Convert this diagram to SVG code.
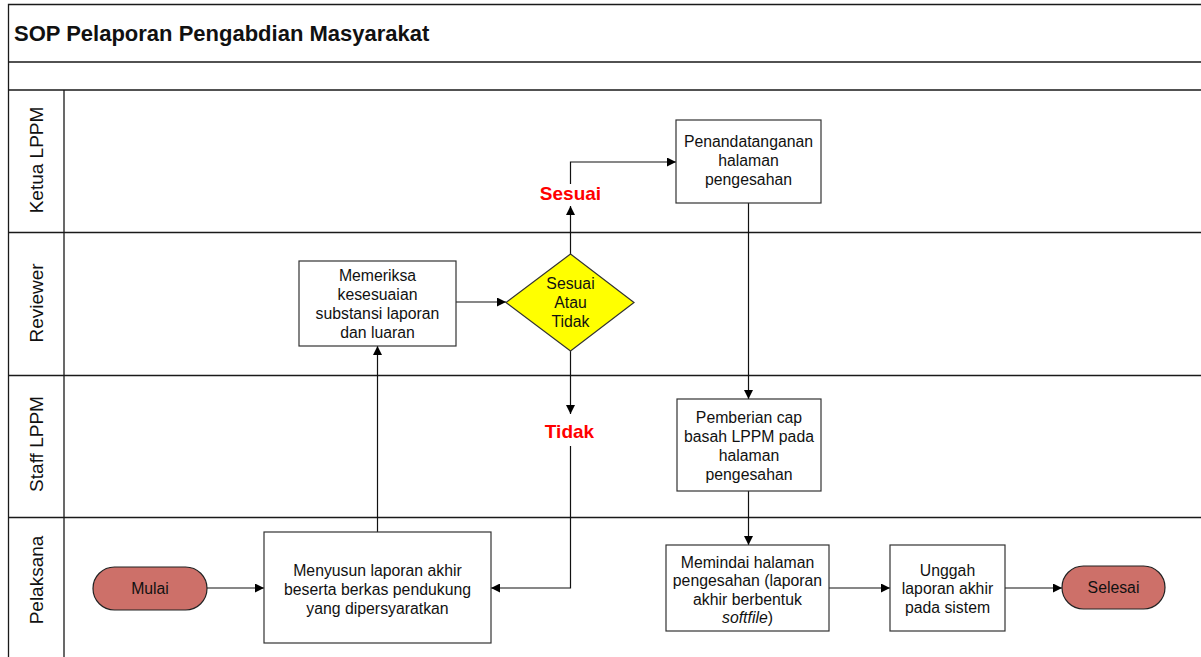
<svg xmlns="http://www.w3.org/2000/svg" width="1201" height="657" viewBox="0 0 1201 657">
<style>
.frame{fill:none;stroke:#1a1a1a;stroke-width:1.3}
.box{fill:#fff;stroke:#333;stroke-width:1.2}
.term{fill:#CD7069;stroke:#222;stroke-width:1.2}
.dia{fill:#FFFF00;stroke:#333;stroke-width:1.2}
.t{font-family:"Liberation Sans",Arial,sans-serif;font-size:15.8px;fill:#111;text-anchor:middle}
.lane{font-family:"Liberation Sans",Arial,sans-serif;font-size:19px;fill:#111;text-anchor:middle}
.title{font-family:"Liberation Sans",Arial,sans-serif;font-size:22px;font-weight:bold;fill:#111}
.lbl{font-family:"Liberation Sans",Arial,sans-serif;font-size:19px;font-weight:bold;fill:#FF0000;text-anchor:middle}
.c{fill:none;stroke:#111;stroke-width:1.2}
</style>
<defs>
<marker id="ah" viewBox="0 0 10 10" refX="10" refY="5" markerWidth="9" markerHeight="9" markerUnits="userSpaceOnUse" orient="auto">
<path d="M0,0 L10,5 L0,10 z" fill="#000"/>
</marker>
</defs>
<rect x="0" y="0" width="1201" height="657" fill="#fff"/>
<g id="frame">
<path class="frame" d="M1201,4.5 H8.5 V657"/>
<path class="frame" d="M8.5,62 H1201 M8.5,90 H1201 M8.5,232.5 H1201 M8.5,375.5 H1201 M8.5,517.5 H1201 M64,90 V657"/>
<text class="title" x="14" y="40.5">SOP Pelaporan Pengabdian Masyarakat</text>
</g>
<g id="lanes">
<text class="lane" transform="translate(42.5,160) rotate(-90)">Ketua LPPM</text>
<text class="lane" transform="translate(42.5,303) rotate(-90)">Reviewer</text>
<text class="lane" transform="translate(42.5,444) rotate(-90)">Staff LPPM</text>
<text class="lane" transform="translate(42.5,580) rotate(-90)">Pelaksana</text>
</g>
<g id="connectors">
<path class="c" d="M207,588 H264" marker-end="url(#ah)"/>
<path class="c" d="M377.5,532 V346" marker-end="url(#ah)"/>
<path class="c" d="M456,302 H506" marker-end="url(#ah)"/>
<path class="c" d="M570.5,254 V206" marker-end="url(#ah)"/>
<path class="c" d="M570.5,184 V162 H676" marker-end="url(#ah)"/>
<path class="c" d="M570.5,351 V414" marker-end="url(#ah)"/>
<path class="c" d="M570.5,446 V588 H491" marker-end="url(#ah)"/>
<path class="c" d="M748.5,203 V399" marker-end="url(#ah)"/>
<path class="c" d="M748.5,491 V545" marker-end="url(#ah)"/>
<path class="c" d="M829,588 H890" marker-end="url(#ah)"/>
<path class="c" d="M1005,588 H1062" marker-end="url(#ah)"/>
<text class="lbl" x="570.5" y="200">Sesuai</text>
<text class="lbl" x="569.5" y="438">Tidak</text>
</g>
<g id="mulai">
<rect class="term" x="93" y="567" width="114" height="43" rx="21.5"/>
<text class="t" x="150" y="593.5">Mulai</text>
</g>
<g id="menyusun">
<rect class="box" x="264" y="532" width="227" height="111"/>
<text class="t" x="377.5" y="575.5">Menyusun laporan akhir</text>
<text class="t" x="377.5" y="594.5">beserta berkas pendukung</text>
<text class="t" x="377.5" y="613.5">yang dipersyaratkan</text>
</g>
<g id="memeriksa">
<rect class="box" x="299" y="261" width="157" height="85"/>
<text class="t" x="377.5" y="280.5">Memeriksa</text>
<text class="t" x="377.5" y="299.5">kesesuaian</text>
<text class="t" x="377.5" y="318.5">substansi laporan</text>
<text class="t" x="377.5" y="337.5">dan luaran</text>
</g>
<g id="keputusan">
<polygon class="dia" points="570.5,254 634,302.5 570.5,351 506,302.5"/>
<text class="t" x="570.5" y="289">Sesuai</text>
<text class="t" x="570.5" y="308">Atau</text>
<text class="t" x="570.5" y="327">Tidak</text>
</g>
<g id="penandatanganan">
<rect class="box" x="676" y="120" width="145" height="83"/>
<text class="t" x="748.5" y="147">Penandatanganan</text>
<text class="t" x="748.5" y="166">halaman</text>
<text class="t" x="748.5" y="185">pengesahan</text>
</g>
<g id="pemberian">
<rect class="box" x="677" y="399" width="144" height="92"/>
<text class="t" x="749" y="422.5">Pemberian cap</text>
<text class="t" x="749" y="441.5">basah LPPM pada</text>
<text class="t" x="749" y="460.5">halaman</text>
<text class="t" x="749" y="479.5">pengesahan</text>
</g>
<g id="memindai">
<rect class="box" x="666" y="545" width="163" height="86"/>
<text class="t" x="747.5" y="567.5">Memindai halaman</text>
<text class="t" x="747.5" y="586">pengesahan (laporan</text>
<text class="t" x="747.5" y="604.5">akhir berbentuk</text>
<text class="t" x="747.5" y="623"><tspan font-style="italic">softfile</tspan>)</text>
</g>
<g id="unggah">
<rect class="box" x="890" y="545" width="115" height="86"/>
<text class="t" x="947.5" y="575.5">Unggah</text>
<text class="t" x="947.5" y="594">laporan akhir</text>
<text class="t" x="947.5" y="612.5">pada sistem</text>
</g>
<g id="selesai">
<rect class="term" x="1062" y="566" width="103" height="43" rx="21.5"/>
<text class="t" x="1113.5" y="593">Selesai</text>
</g>
</svg>
